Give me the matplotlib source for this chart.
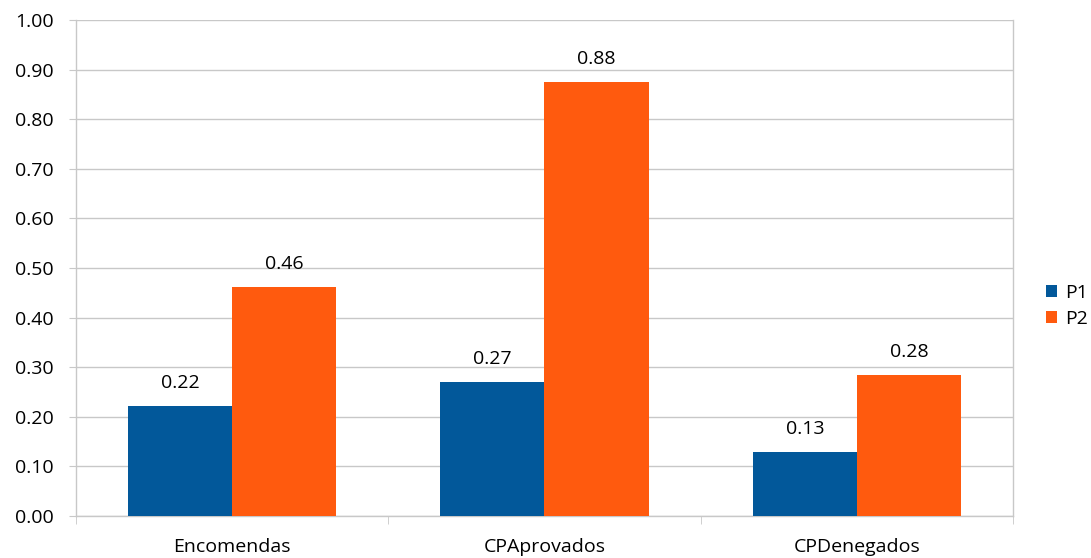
import matplotlib
matplotlib.use("Agg")
import matplotlib.pyplot as plt
from matplotlib.patches import Patch
import numpy as np

plt.rcParams['font.family'] = ['Open Sans', 'DejaVu Sans']

categories = ["Encomendas", "CPAprovados", "CPDenegados"]
series_names = ["P1", "P2"]
p1_values = [0.222, 0.271, 0.130]
p2_values = [0.461, 0.876, 0.284]
y_ticks = [0.0, 0.1, 0.2, 0.3, 0.4, 0.5, 0.6, 0.7, 0.8, 0.9, 1.0]

colors = ["#02589a", "#ff5a0e"]
grid_color = "#c8c8c8"
font_size = 14

fig = plt.figure(figsize=(10.91, 5.58), dpi=100)
ax = fig.add_axes([76 / 1091, 42 / 558, (1013 - 76) / 1091, (516 - 20) / 558])

x = np.arange(len(categories))
width = 1 / 3
for i, (vals, c) in enumerate(zip([p1_values, p2_values], colors)):
    b = ax.bar(x + (i - 0.5) * width, vals, width, color=c, zorder=3)
    for rect, v in zip(b, vals):
        ax.annotate(f"{v:.2f}", (rect.get_x() + rect.get_width() / 2, v),
                    xytext=(0, 10), textcoords="offset points",
                    ha="center", va="bottom", fontsize=font_size, color="black")

ax.set_xlim(-0.5, len(categories) - 0.5)
ax.set_ylim(0, 1.0)
ax.set_yticks(y_ticks)
ax.set_yticklabels([f"{t:.2f}" for t in y_ticks], fontsize=font_size)
ax.yaxis.grid(True, color=grid_color, linewidth=1, zorder=0)

ax.set_xticks(x)
ax.set_xticklabels(categories, fontsize=font_size)
ax.set_xticks(np.arange(len(categories) + 1) - 0.5, minor=True)
ax.tick_params(axis="x", which="major", length=0, pad=16)
ax.tick_params(axis="x", which="minor", length=6, color=grid_color, direction="out")
ax.tick_params(axis="y", length=5, color=grid_color, direction="out", pad=11)

ax.spines["top"].set_visible(False)
for side in ["left", "right", "bottom"]:
    ax.spines[side].set_color(grid_color)
    ax.spines[side].set_linewidth(1)

handles = [Patch(facecolor=c, edgecolor="none") for c in colors]
fig.legend(handles, series_names, loc="center left",
           bbox_to_anchor=(1036 / 1091, 1 - 306 / 558), frameon=False,
           fontsize=font_size, handlelength=0.6, handleheight=0.6,
           handletextpad=0.4, labelspacing=0.4, borderpad=0)

fig.savefig("out.png", dpi=100)
